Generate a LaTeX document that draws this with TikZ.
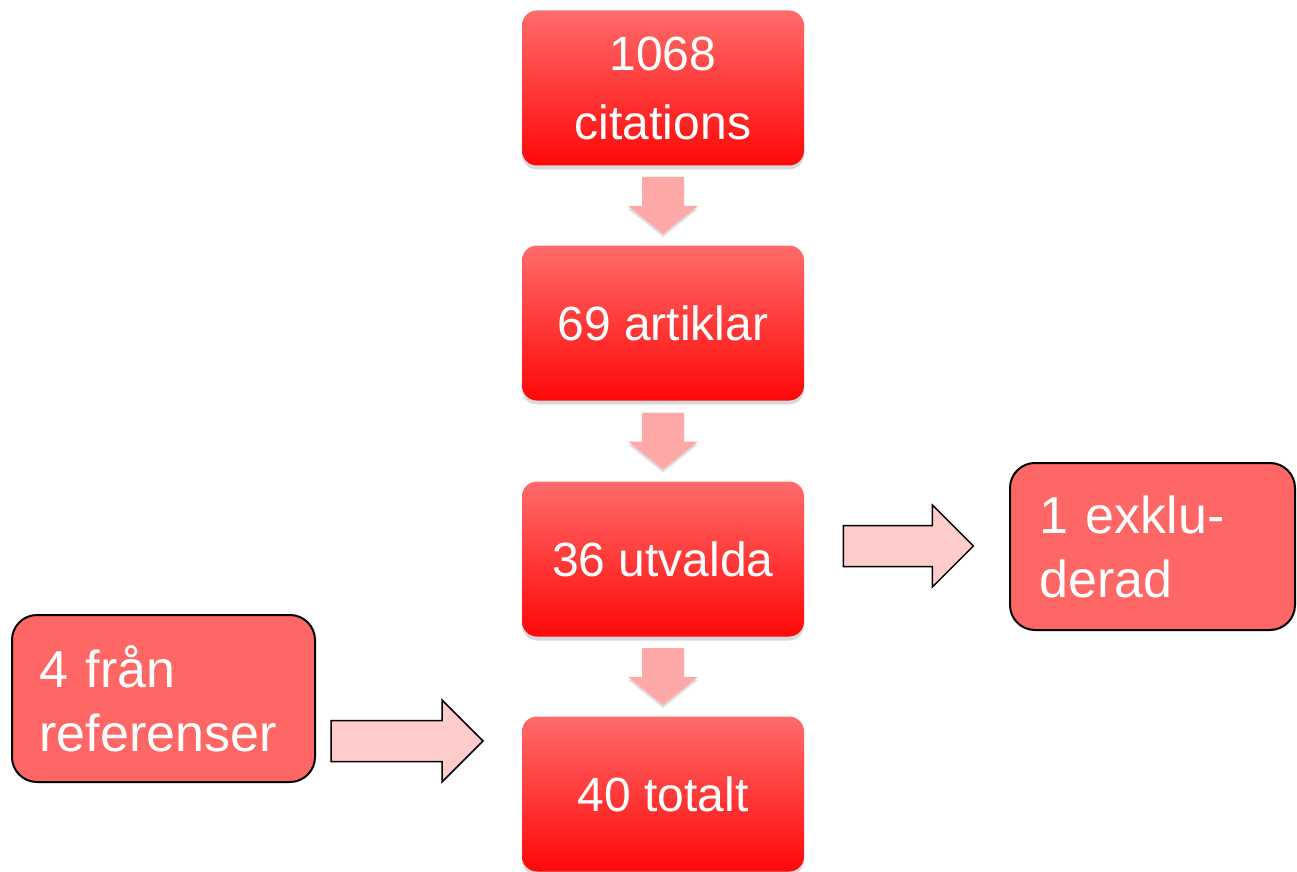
\documentclass[tikz,border=0pt]{standalone}
\usepackage{fontspec}
\setmainfont{Liberation Sans}
\usetikzlibrary{shadows}
\usetikzlibrary{calc}

\definecolor{boxtop}{HTML}{FF6B6B}
\definecolor{boxbot}{HTML}{FF0808}
\definecolor{sidered}{HTML}{FF6666}
\definecolor{downpink}{HTML}{FFA8A8}
\definecolor{sidepink}{HTML}{FFCCCC}

\begin{document}
\begin{tikzpicture}[x=0.5pt,y=-0.5pt,
                main node/.style={rectangle,rounded corners=7.5pt,top color=boxtop,bottom color=boxbot,
                    minimum width=141pt,minimum height=77.5pt,text=white,align=center,
                    font=\fontsize{24}{34.5}\selectfont,
                    drop shadow={opacity=0.3,shadow xshift=0pt,shadow yshift=-2pt}},
                side node/.style={rectangle,rounded corners=12.5pt,fill=sidered,draw=black,line width=1pt,
                    minimum height=83.5pt,inner xsep=0pt,text=white,align=left,
                    font=\fontsize{26}{32}\selectfont},
                down arrow/.pic={
                    \fill[downpink,drop shadow={opacity=0.25,shadow xshift=0pt,shadow yshift=-1.5pt}]
                        (-21,-28.5) -- (21,-28.5) -- (21,0.5) -- (35,0.5) -- (0,28.5)
                        -- (-35,0.5) -- (-21,0.5) -- cycle;},
                pics/side arrow/.style={code={
                    \filldraw[fill=sidepink,draw=black,line width=0.75pt]
                        (0,-20.5) -- ({#1-41},-20.5) -- ({#1-41},-41) -- (#1,0)
                        -- ({#1-41},41) -- ({#1-41},20.5) -- (0,20.5) -- cycle;}},
                ]
                \useasboundingbox (0,0) rectangle (1297,872);
                \def\X{663}

                \node[main node] (1) at (\X,88) {1068\\citations};
                \node[main node] (2) at (\X,323) {69 artiklar};
                \node[main node] (3) at (\X,559) {36 utvalda};
                \node[main node] (4) at (\X,794) {40 totalt};

                \node[side node,minimum width=142.5pt,text width=113pt] (5) at (1152.5,546.5) {1 exklu-\\derad};
                \node[side node,minimum width=151.5pt,text width=124pt] (6) at (163.5,698.5) {4 från\\referenser};

                \pic at ($(1.south)!0.5!(2.north)$) {down arrow};
                \pic at ($(2.south)!0.5!(3.north)$) {down arrow};
                \pic at ($(3.south)!0.5!(4.north)$) {down arrow};

                \pic at ($(3.east)+(39,-13)$) {side arrow=130};
                \pic at ($(6.east)+(15,42.5)$) {side arrow=152};
            \end{tikzpicture}
\end{document}
